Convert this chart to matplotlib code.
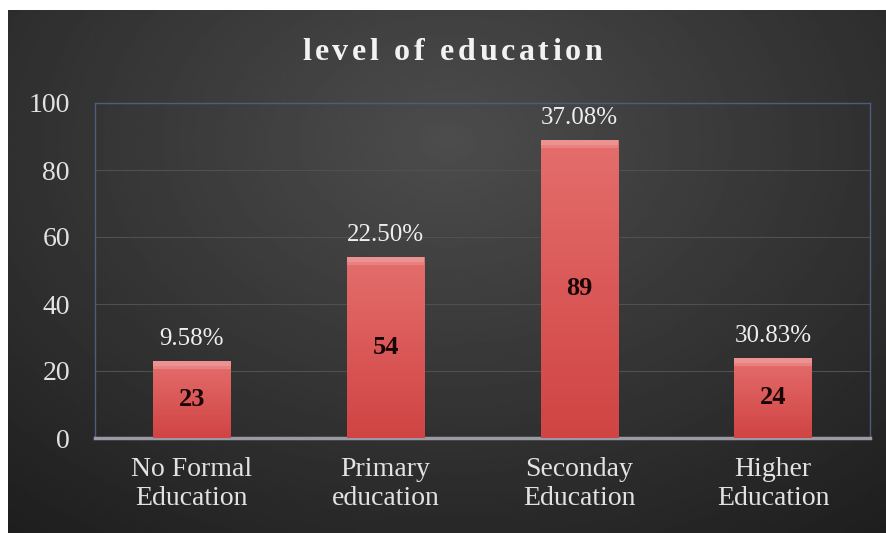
import matplotlib.pyplot as plt
import numpy as np
from matplotlib.colors import LinearSegmentedColormap
from matplotlib.font_manager import FontProperties

categories = ['No Formal\nEducation', 'Primary\neducation', 'Seconday\nEducation', 'Higher\nEducation']
counts = [23, 54, 89, 24]
percents = ['9.58%', '22.50%', '37.08%', '30.83%']
yticks = [0, 20, 40, 60, 80, 100]
title = 'level of education'

plt.rcParams['font.family'] = 'Liberation Serif'

fig = plt.figure(figsize=(8.87, 5.33), dpi=100)
fig.patch.set_facecolor('white')

# dark radial background, thin white strip left and top like the original
bg = fig.add_axes([8/887, 0, 1 - 8/887, 1 - 10/533], zorder=-10)
yy, xx = np.mgrid[0:1:200j, 0:1:300j]
r = np.sqrt(((xx - 0.5) / 0.75)**2 + ((yy - 0.25) / 0.9)**2)
shade = np.clip(0.30 - 0.17 * r, 0.12, 0.3)
bg.imshow(shade, cmap='gray', vmin=0, vmax=1, aspect='auto',
          extent=[0, 1, 0, 1], origin='upper', interpolation='bilinear')
bg.set_xlim(0, 1)
bg.set_ylim(0, 1)
bg.axis('off')

ax = fig.add_axes([95/887, 1 - 438/533, 775/887, 335/533])
ax.set_facecolor('none')

x = np.arange(len(categories))
bars = ax.bar(x, counts, width=0.4, color='#d64a48', zorder=3)

# vertical shading inside bars
barcm = LinearSegmentedColormap.from_list('bar', ['#e46e6c', '#d04444'])
grad = np.linspace(0, 1, 100).reshape(-1, 1)
for b in bars:
    x0 = b.get_x()
    im = ax.imshow(grad, cmap=barcm, aspect='auto', origin='upper',
                   extent=[x0, x0 + b.get_width(), 0, b.get_height()], zorder=3)
    im.set_clip_path(b)
# soft bevel at the top of each bar
ax.bar(x, 1.6, bottom=np.array(counts) - 1.6, width=0.4, color='#ec9290', zorder=4)
ax.bar(x, 0.8, bottom=np.array(counts) - 2.4, width=0.4, color='#e88280', zorder=4)

for i, c in enumerate(counts):
    ax.text(i, c / 2, str(c), ha='center', va='center', fontsize=19,
            fontweight='bold', color='#1a0505', zorder=5)
    ax.text(i, c + 6.5, percents[i], ha='center', va='center', fontsize=18,
            color='#eeeeee', zorder=5)

ax.set_xlim(-0.5, 3.5)
ax.set_ylim(0, 100)
ax.set_yticks(yticks)
ax.set_xticks(x)
ax.set_xticklabels(categories)
ax.tick_params(axis='y', length=0, pad=18, labelsize=20, labelcolor='#e2e2e2')
ax.tick_params(axis='x', length=0, pad=14, labelsize=20, labelcolor='#e2e2e2')

ax.grid(axis='y', color='#505050', linewidth=0.8, zorder=0)
ax.set_axisbelow(True)
for s in ['left', 'right', 'top']:
    ax.spines[s].set_color('#4d5d7a')
    ax.spines[s].set_linewidth(1)
ax.spines['bottom'].set_color('#9a9aa6')
ax.spines['bottom'].set_linewidth(2.5)

# title with wide letter spacing, placed one character at a time
fp = FontProperties(family='Liberation Serif', weight='bold', size=23)
renderer = fig.canvas.get_renderer()
extra = 3.5  # px between letters
widths = []
for ch in title:
    w, h, d = renderer.get_text_width_height_descent(ch if ch != ' ' else 'n', fp, ismath=False)
    if ch == ' ':
        w = w * 0.5
    widths.append(w)
total = sum(widths) + extra * (len(title) - 1)
xpos = 452 - total / 2
for ch, w in zip(title, widths):
    if ch != ' ':
        fig.text(xpos / 887, 1 - 52 / 533, ch, ha='left', va='center',
                 fontproperties=fp, color='#f2f2f2')
    xpos += w + extra

fig.savefig('out.png', dpi=100, facecolor=fig.get_facecolor())
